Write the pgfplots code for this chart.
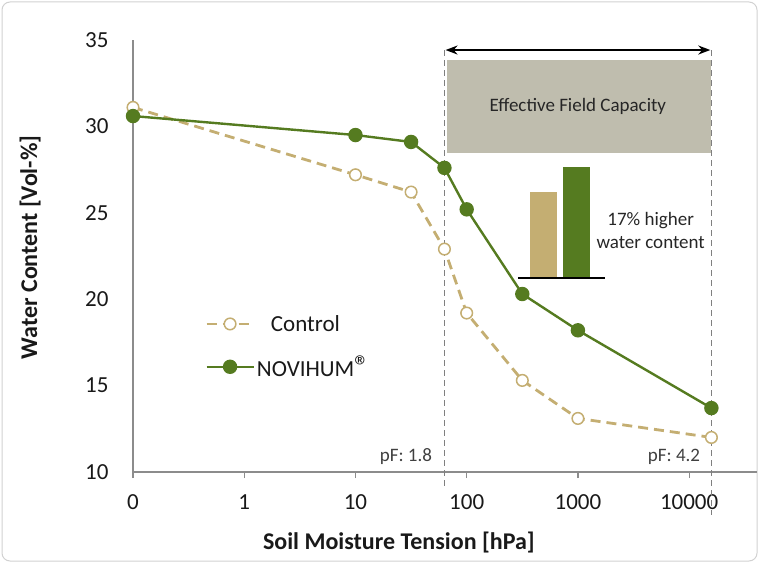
\documentclass[border=0pt]{standalone}
\usepackage{pgfplots}
\pgfplotsset{compat=1.18}
\usepackage{fontspec}
\setmainfont{Carlito}
\usetikzlibrary{arrows.meta}

\definecolor{ctan}{HTML}{C4AE72}
\definecolor{cgreen}{HTML}{557B20}
\definecolor{boxgray}{HTML}{BFBDAE}
\definecolor{axisgray}{HTML}{8C8C8C}
\definecolor{dashgray}{HTML}{7F7F7F}

% x position = pF + 1  (0 hPa drawn at pF -1)
\pgfplotstableread{
x    y
0    31.1
2    27.2
2.5  26.2
2.8  22.9
3    19.2
3.5  15.3
4    13.1
5.2  12.0
}\control
\pgfplotstableread{
x    y
0    30.6
2    29.5
2.5  29.1
2.8  27.6
3    25.2
3.5  20.3
4    18.2
5.2  13.7
}\novihum

\begin{document}
\begin{tikzpicture}
\useasboundingbox (0pt,0pt) rectangle (759pt,563pt);
\draw[black!18, line width=1pt, rounded corners=8pt] (2pt,2pt) rectangle (757pt,561pt);
\begin{axis}[
    at={(133pt,91pt)}, anchor=south west,
    scale only axis, width=624pt, height=432pt,
    xmin=0, xmax=5.61, ymin=10, ymax=35,
    clip=false,
    axis x line=bottom, axis y line=left,
    axis line style={draw=axisgray, line width=1.2pt, -},
    xtick={0,1,2,3,4,5},
    xticklabels={0,1,10,100,1000,10000},
    ytick={10,15,20,25,30,35},
    tick align=outside,
    major tick length=6pt,
    x tick style={draw=axisgray, line width=1.2pt},
    y tick style={draw=none},
    /pgf/number format/assume math mode=true,
    ticklabel style={font=\fontsize{23}{27}\selectfont, text=black!90},
    yticklabel style={xshift=-15pt},
    xticklabel style={yshift=-13pt},
    xlabel={Soil Moisture Tension [hPa]},
    ylabel={Water Content [Vol-\%]},
    label style={font=\fontsize{24}{28}\selectfont\bfseries, text=black!90},
    xlabel style={at={(axis description cs:0.426,-0.164)}, anchor=center},
    ylabel style={at={(axis description cs:-0.165,0.52)}, anchor=center, rotate=0},
    legend style={at={(axis cs:0.647,17.26)}, anchor=west, draw=none, fill=none,
        inner sep=0pt, row sep=19pt,
        font=\fontsize{23}{27}\selectfont,
        nodes={inner sep=2pt, text=black!90}},
    legend cell align=left,
    legend image code/.code={
        \draw[mark repeat=2, mark phase=2, #1]
            plot coordinates {(0pt,0pt) (23.5pt,0pt) (47pt,0pt)};},
]
% dashed limits of the effective field capacity
\addplot[dashgray, line width=1.5pt, dash pattern=on 6pt off 4pt, forget plot]
    coordinates {(2.8,34.42) (2.8,9.07)};
\addplot[dashgray, line width=1.5pt, dash pattern=on 6pt off 4pt, forget plot]
    coordinates {(5.2,34.42) (5.2,7.5)};
% grey band
\addplot[fill=boxgray, draw=none, forget plot]
    coordinates {(2.82,28.48) (5.195,28.48) (5.195,33.84) (2.82,33.84)} -- cycle;
% small inset bars
\addplot[fill=ctan, draw=none, forget plot]
    coordinates {(3.57,21.23) (3.81,21.23) (3.81,26.2) (3.57,26.2)} -- cycle;
\addplot[fill=cgreen, draw=none, forget plot]
    coordinates {(3.87,21.23) (4.11,21.23) (4.11,27.63) (3.87,27.63)} -- cycle;
\addplot[black, line width=1.4pt, forget plot]
    coordinates {(3.46,21.23) (4.24,21.23)};

\addplot[ctan, line width=2.8pt, dash pattern=on 10pt off 6pt,
    mark=*, mark size=5.8pt,
    mark options={solid, fill=white, draw=ctan, line width=1.5pt}]
    table[x=x, y=y] {\control};
\addlegendentry{\hspace{14pt}Control}
\addplot[cgreen, line width=2.4pt, mark=*, mark size=6pt,
    mark options={solid, fill=cgreen, draw=cgreen}]
    table[x=x, y=y] {\novihum};
\addlegendentry{NOVIHUM{\fontsize{30}{30}\selectfont®}}

\draw[{Stealth[length=12pt,width=9pt]}-{Stealth[length=12pt,width=9pt]}, line width=1.8pt]
    (axis cs:2.81,34.42) -- (axis cs:5.19,34.42);
\node[font=\fontsize{19}{23}\selectfont, text=black!85] at (axis cs:4.0,31.14)
    {Effective Field Capacity};
\node[font=\fontsize{19}{22.7}\selectfont, text=black!85, align=center]
    at (axis cs:4.654,23.99) {17\% higher\\water content};
\node[anchor=east, inner sep=0pt, font=\fontsize{19}{23}\selectfont, text=black!75]
    at (axis cs:2.69,10.89) {pF: 1.8};
\node[anchor=east, inner sep=0pt, font=\fontsize{19}{23}\selectfont, text=black!75]
    at (axis cs:5.10,10.89) {pF: 4.2};
\end{axis}
\end{tikzpicture}
\end{document}
